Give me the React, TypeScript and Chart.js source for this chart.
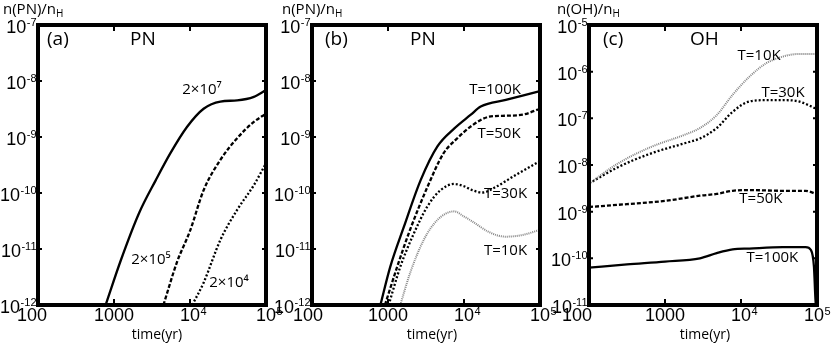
import React, { useEffect, useRef } from 'react';
import { Chart, registerables } from 'chart.js';
Chart.register(...registerables);

const FONT = "'Open Sans', 'Liberation Sans', sans-serif";
const TICK_FONT = "'Liberation Sans', Arial, sans-serif";

// ---------- axis ticks ----------
const xTickValues = [100, 1000, 10000, 100000];
const xTickBase = ['100', '1000', '10', '10'];
const xTickExp = ['', '', '4', '5'];
const yTickValuesPN = [1e-12, 1e-11, 1e-10, 1e-9, 1e-8, 1e-7];
const yTickExpPN = ['-12', '-11', '-10', '-9', '-8', '-7'];
const yTickValuesOH = [1e-11, 1e-10, 1e-9, 1e-8, 1e-7, 1e-6, 1e-5];
const yTickExpOH = ['-11', '-10', '-9', '-8', '-7', '-6', '-5'];

// ---------- panel (a): PN, density ----------
const aTime2e7 = [776, 1230, 2140, 3550, 5500, 9120, 15100, 25100, 41700, 69200, 100000];
const aPN2e7 = [1e-12, 6.3e-12, 4.4e-11, 1.7e-10, 5.1e-10, 1.51e-9, 3.2e-9, 4.3e-9, 4.5e-9, 5.2e-9, 6.9e-9];
const aTime2e5 = [4470, 6760, 10000, 15100, 25100, 41700, 69200, 100000];
const aPN2e5 = [1e-12, 5.9e-12, 2.1e-11, 1.12e-10, 3.9e-10, 9.5e-10, 1.86e-9, 2.6e-9];
const aTime2e4 = [10700, 15100, 25100, 41700, 69200, 100000];
const aPN2e4 = [1e-12, 2.5e-12, 1.45e-11, 5.0e-11, 1.38e-10, 3.4e-10];

// ---------- panel (b): PN, temperature ----------
const bTime100 = [794, 1070, 1620, 2690, 4470, 7410, 12300, 16600, 35500, 58900, 100000];
const bPN100 = [1e-12, 4.8e-12, 2.5e-11, 1.7e-10, 6.8e-10, 1.41e-9, 2.5e-9, 3.5e-9, 4.6e-9, 5.5e-9, 6.6e-9];
const bTime50 = [912, 1320, 1950, 3310, 5370, 7760, 12900, 21400, 35500, 58900, 100000];
const bPN50 = [1e-12, 4.8e-12, 2.2e-11, 1.29e-10, 5.1e-10, 8.9e-10, 1.62e-9, 2.3e-9, 2.4e-9, 2.5e-9, 3.2e-9];
const bTime30 = [1020, 1450, 2190, 3310, 4900, 7410, 10000, 12900, 17400, 26300, 47900, 100000];
const bPN30 = [1e-12, 4.8e-12, 1.9e-11, 5.8e-11, 1.12e-10, 1.45e-10, 1.32e-10, 1.12e-10, 1.02e-10, 1.29e-10, 2.1e-10, 3.7e-10];
const bTime10 = [1450, 1950, 2950, 4470, 7410, 10000, 12900, 21400, 35500, 58900, 100000];
const bPN10 = [1e-12, 3.7e-12, 1.45e-11, 3.3e-11, 4.7e-11, 3.8e-11, 3.1e-11, 2.0e-11, 1.66e-11, 1.78e-11, 2.2e-11];

// ---------- panel (c): OH, temperature ----------
const cTime10 = [100, 245, 661, 1780, 2880, 4790, 7760, 12900, 21400, 35500, 57500, 100000];
const cOH10 = [4.0e-9, 1.1e-8, 2.45e-8, 4.4e-8, 6.2e-8, 1.17e-7, 3.2e-7, 7.8e-7, 1.51e-6, 2.1e-6, 2.4e-6, 2.4e-6];
const cTime30 = [100, 245, 661, 1780, 2880, 4790, 7760, 12900, 21400, 35500, 57500, 100000];
const cOH30 = [4.0e-9, 9.1e-9, 1.78e-8, 2.9e-8, 3.7e-8, 6.2e-8, 1.38e-7, 2.3e-7, 2.45e-7, 2.45e-7, 2.3e-7, 1.58e-7];
const cTime50 = [100, 316, 1000, 2880, 4790, 7760, 12900, 35500, 70800, 100000];
const cOH50 = [1.26e-9, 1.45e-9, 1.7e-9, 2.2e-9, 2.4e-9, 2.8e-9, 2.9e-9, 2.8e-9, 2.8e-9, 2.35e-9];
const cTime100 = [100, 316, 1000, 2880, 4790, 7760, 12900, 35500, 70800, 83200, 91200, 95500, 100000];
const cOH100 = [6.3e-11, 7.4e-11, 8.5e-11, 1.0e-10, 1.29e-10, 1.55e-10, 1.62e-10, 1.74e-10, 1.74e-10, 1.51e-10, 6.6e-11, 1.3e-11, 5e-12];

// ---------- curve labels (text, time, abundance) ----------
const aLabelTexts = ['2×10⁷', '2×10⁵', '2×10⁴'];
const aLabelTimes = [14400, 3070, 32600];
const aLabelValues = [6.9e-9, 6.4e-12, 2.5e-12];
const bLabelTexts = ['T=100K', 'T=50K', 'T=30K', 'T=10K'];
const bLabelTimes = [25600, 28900, 35200, 35200];
const bLabelValues = [6.9e-9, 1.13e-9, 9.6e-11, 9.2e-12];
const cLabelTexts = ['T=10K', 'T=30K', 'T=50K', 'T=100K'];
const cLabelTimes = [17300, 35700, 18300, 25900];
const cLabelValues = [2.17e-6, 3.6e-7, 1.87e-9, 1.04e-10];

type LineStyle = 'solid' | 'dashed' | 'dotted' | 'gray';
const STYLES: Record<LineStyle, any> = {
  solid: { borderColor: '#000', borderWidth: 2.3, borderDash: [] },
  dashed: { borderColor: '#000', borderWidth: 2.3, borderDash: [4, 2] },
  dotted: { borderColor: '#000', borderWidth: 2.3, borderDash: [2, 2] },
  gray: { borderColor: '#858585', borderWidth: 2, borderDash: [1, 1] },
};

interface Panel {
  key: string;
  left: number;
  width: number;
  padRight: number;
  yMin: number;
  yMax: number;
  yTicks: number[];
  yExp: string[];
  yTitle: string;
  yTitleX: number;
  tag: string;
  tagDx: number;
  species: string;
  speciesDx: number;
  firstXShift: number;
  lastXShift: number;
  xTitleDx: number;
  series: { t: number[]; v: number[]; style: LineStyle }[];
  labels: { text: string[]; t: number[]; v: number[] };
}

const PANELS: Panel[] = [
  {
    key: 'a', left: 0, width: 290, padRight: 24,
    yMin: 1e-12, yMax: 1e-7, yTicks: yTickValuesPN, yExp: yTickExpPN,
    yTitle: 'n(PN)/n', yTitleX: 3, tag: '(a)', tagDx: 9, species: 'PN', speciesDx: 92,
    firstXShift: -6, lastXShift: 0, xTitleDx: 5,
    series: [
      { t: aTime2e7, v: aPN2e7, style: 'solid' },
      { t: aTime2e5, v: aPN2e5, style: 'dashed' },
      { t: aTime2e4, v: aPN2e4, style: 'dotted' },
    ],
    labels: { text: aLabelTexts, t: aLabelTimes, v: aLabelValues },
  },
  {
    key: 'b', left: 274, width: 290, padRight: 24,
    yMin: 1e-12, yMax: 1e-7, yTicks: yTickValuesPN, yExp: yTickExpPN,
    yTitle: 'n(PN)/n', yTitleX: 8, tag: '(b)', tagDx: 13, species: 'PN', speciesDx: 98,
    firstXShift: -4, lastXShift: 0, xTitleDx: 6,
    series: [
      { t: bTime100, v: bPN100, style: 'solid' },
      { t: bTime50, v: bPN50, style: 'dashed' },
      { t: bTime30, v: bPN30, style: 'dotted' },
      { t: bTime10, v: bPN10, style: 'gray' },
    ],
    labels: { text: bLabelTexts, t: bLabelTimes, v: bLabelValues },
  },
  {
    key: 'c', left: 551, width: 280, padRight: 14,
    yMin: 1e-11, yMax: 1e-5, yTicks: yTickValuesOH, yExp: yTickExpOH,
    yTitle: 'n(OH)/n', yTitleX: 6, tag: '(c)', tagDx: 14, species: 'OH', speciesDx: 101,
    firstXShift: -12, lastXShift: -3, xTitleDx: 2,
    series: [
      { t: cTime10, v: cOH10, style: 'gray' },
      { t: cTime30, v: cOH30, style: 'dotted' },
      { t: cTime50, v: cOH50, style: 'dashed' },
      { t: cTime100, v: cOH100, style: 'solid' },
    ],
    labels: { text: cLabelTexts, t: cLabelTimes, v: cLabelValues },
  },
];

const BASE_PX = 18;
const EXP_PX = 11;

// draws "base" with a raised exponent; anchor is centre of base (align 'center') or right end (align 'right')
function drawPower(ctx: CanvasRenderingContext2D, base: string, exp: string, x: number, y: number, align: 'center' | 'right', supRaise: number) {
  ctx.textAlign = 'left';
  ctx.textBaseline = 'middle';
  ctx.font = `${BASE_PX}px ${TICK_FONT}`;
  const wb = ctx.measureText(base).width;
  ctx.font = `${EXP_PX}px ${TICK_FONT}`;
  const we = exp ? ctx.measureText(exp).width : 0;
  const x0 = align === 'right' ? x - wb - we - 0.5 : x - wb / 2;
  ctx.font = `${BASE_PX}px ${TICK_FONT}`;
  ctx.fillText(base, x0, y);
  if (exp) {
    ctx.font = `${EXP_PX}px ${TICK_FONT}`;
    ctx.fillText(exp, x0 + wb + 0.5, y - supRaise);
  }
}

function decorPlugin(p: Panel) {
  return {
    id: 'decor_' + p.key,
    afterDatasetsDraw(chart: any) {
      const { ctx, chartArea: a, scales } = chart;
      const xs = scales.x;
      const ys = scales.y;
      ctx.save();
      ctx.fillStyle = '#000';
      ctx.strokeStyle = '#000';

      // curve labels
      ctx.font = `15px ${FONT}`;
      ctx.textAlign = 'center';
      ctx.textBaseline = 'middle';
      p.labels.text.forEach((txt, i) => {
        ctx.fillText(txt, xs.getPixelForValue(p.labels.t[i]), ys.getPixelForValue(p.labels.v[i]));
      });

      // frame
      ctx.lineWidth = 4;
      ctx.strokeRect(a.left, a.top, a.right - a.left, a.bottom - a.top);

      // inward tick marks
      ctx.lineWidth = 2;
      ctx.beginPath();
      xs.ticks.forEach((tk: any) => {
        const x = xs.getPixelForValue(tk.value);
        if (x > a.left + 4 && x < a.right - 4) {
          ctx.moveTo(x, a.top); ctx.lineTo(x, a.top + 6);
          ctx.moveTo(x, a.bottom); ctx.lineTo(x, a.bottom - 6);
        }
      });
      ys.ticks.forEach((tk: any) => {
        const y = ys.getPixelForValue(tk.value);
        if (y > a.top + 4 && y < a.bottom - 4) {
          ctx.moveTo(a.left, y); ctx.lineTo(a.left + 4, y);
          ctx.moveTo(a.right, y); ctx.lineTo(a.right - 4, y);
        }
      });
      ctx.stroke();

      // x tick labels
      xs.ticks.forEach((tk: any, i: number) => {
        let x = xs.getPixelForValue(tk.value);
        if (i === 0) x += p.firstXShift;
        if (i === xs.ticks.length - 1) x += p.lastXShift;
        drawPower(ctx, xTickBase[i], xTickExp[i], x, a.bottom + 11, 'center', 4);
      });
      // y tick labels
      ys.ticks.forEach((tk: any, i: number) => {
        const y = ys.getPixelForValue(tk.value);
        drawPower(ctx, '10', p.yExp[i], a.left - 1.5, y + 3, 'right', 5);
      });

      // x title
      ctx.font = `14px ${FONT}`;
      ctx.textAlign = 'center';
      ctx.textBaseline = 'alphabetic';
      ctx.fillText('time(yr)', (a.left + a.right) / 2 + p.xTitleDx, 339);

      // panel tag & species
      ctx.textAlign = 'left';
      ctx.font = `19px ${FONT}`;
      ctx.fillText(p.tag, a.left + p.tagDx, a.top + 20);
      ctx.fillText(p.species, a.left + p.speciesDx, a.top + 20);

      // y title with subscript
      ctx.font = `15px ${FONT}`;
      ctx.fillText(p.yTitle, p.yTitleX, 14);
      const w = ctx.measureText(p.yTitle).width;
      ctx.font = `10px ${FONT}`;
      ctx.fillText('H', p.yTitleX + w, 17);
      ctx.restore();
    },
  };
}

function PanelChart({ p }: { p: Panel }) {
  const ref = useRef<HTMLCanvasElement>(null);
  useEffect(() => {
    if (!ref.current) return;
    const chart = new Chart(ref.current, {
      type: 'line',
      data: {
        datasets: p.series.map((s) => ({
          data: s.t.map((t, i) => ({ x: t, y: s.v[i] })),
          ...STYLES[s.style],
          fill: false,
          pointRadius: 0,
          cubicInterpolationMode: 'monotone' as const,
        })),
      },
      options: {
        animation: false,
        responsive: false,
        devicePixelRatio: 1,
        layout: { padding: { top: 25, right: p.padRight, left: 0, bottom: 0 } },
        plugins: { legend: { display: false }, tooltip: { enabled: false } },
        scales: {
          x: {
            type: 'logarithmic',
            min: 100,
            max: 100000,
            afterBuildTicks: (s: any) => { s.ticks = xTickValues.map((value) => ({ value })); },
            afterFit: (s: any) => { s.height = 39; s.paddingLeft = 0; s.paddingRight = 0; },
            ticks: { display: false },
            grid: { display: false, drawTicks: false },
            border: { display: false },
          },
          y: {
            type: 'logarithmic',
            min: p.yMin,
            max: p.yMax,
            afterBuildTicks: (s: any) => { s.ticks = p.yTicks.map((value) => ({ value })); },
            afterFit: (s: any) => { s.width = 38; s.paddingTop = 0; s.paddingBottom = 0; },
            ticks: { display: false },
            grid: { display: false, drawTicks: false },
            border: { display: false },
          },
        },
      },
      plugins: [decorPlugin(p)],
    } as any);
    return () => chart.destroy();
  }, [p]);
  return (
    <canvas
      ref={ref}
      width={p.width}
      height={344}
      style={{ position: 'absolute', left: p.left, top: 0, width: p.width, height: 344 }}
    />
  );
}

export default function App() {
  return (
    <div style={{ position: 'fixed', left: 0, top: 0, width: 831, height: 344, background: '#fff', overflow: 'hidden' }}>
      {PANELS.map((p) => (
        <PanelChart key={p.key} p={p} />
      ))}
    </div>
  );
}
